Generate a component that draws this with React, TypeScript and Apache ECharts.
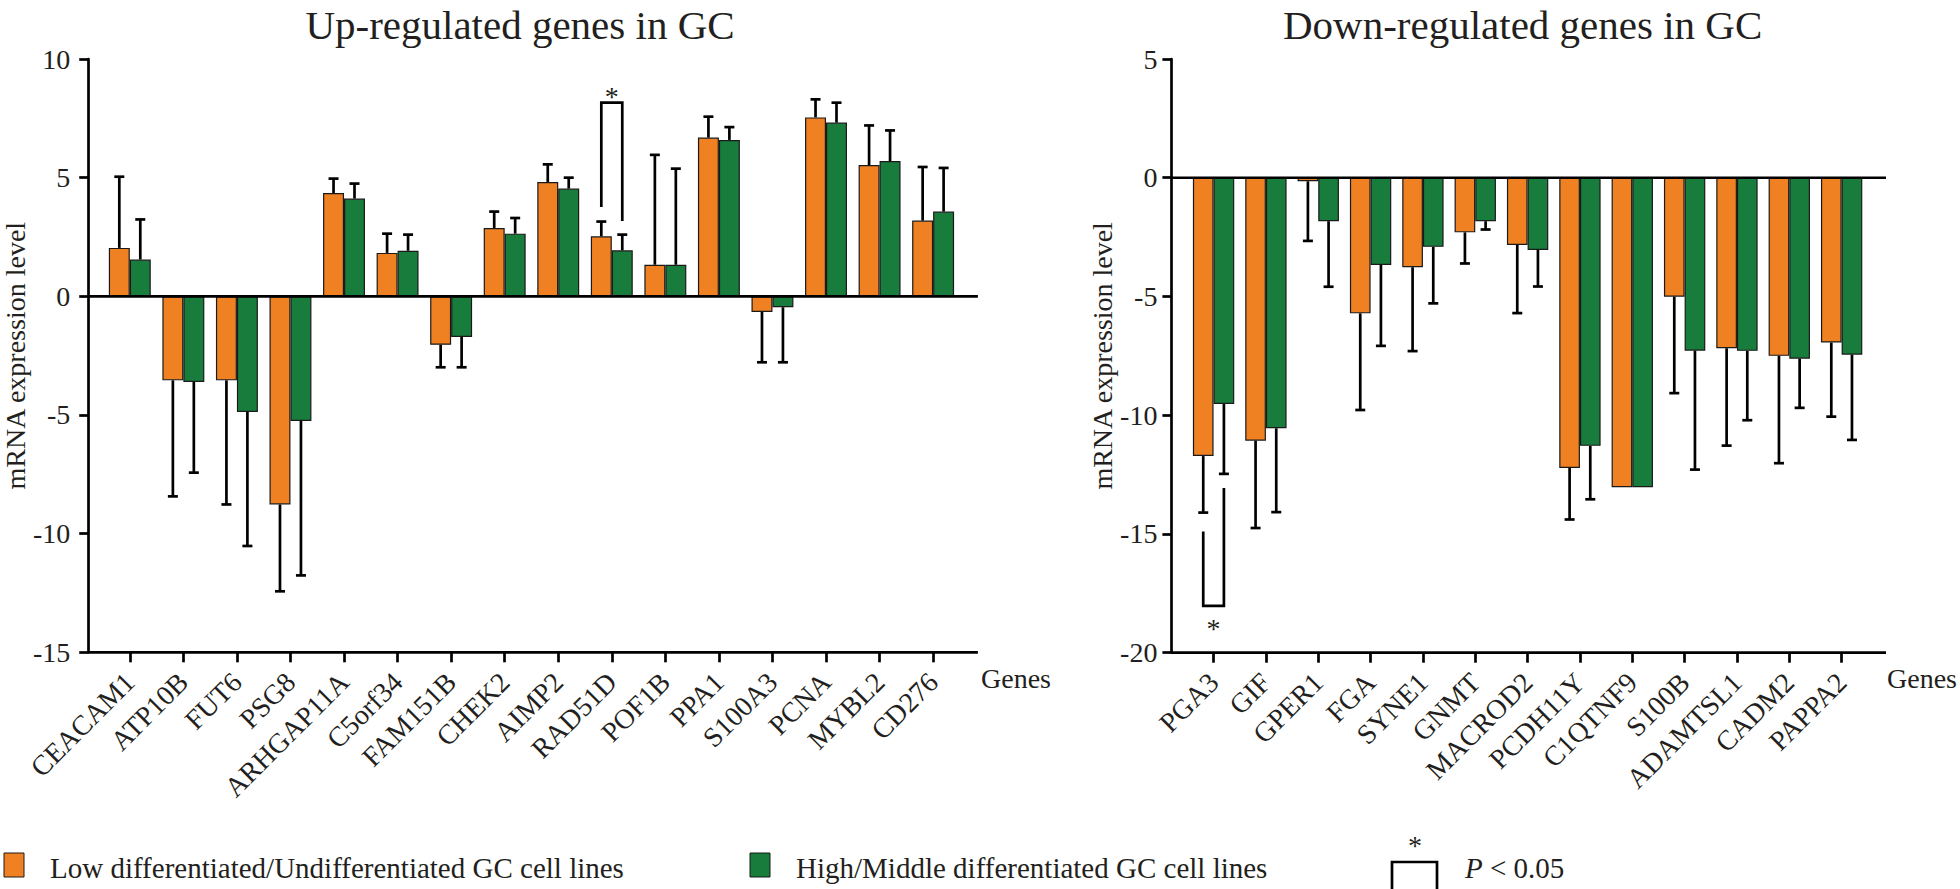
import React, { useEffect, useRef } from 'react';
import * as echarts from 'echarts';

// ---------- data ----------
const upGenes = ['CEACAM1', 'ATP10B', 'FUT6', 'PSG8', 'ARHGAP11A', 'C5orf34', 'FAM151B', 'CHEK2', 'AIMP2', 'RAD51D', 'POF1B', 'PPA1', 'S100A3', 'PCNA', 'MYBL2', 'CD276'];
const upLow = [2.04, -3.54, -3.54, -8.77, 4.35, 1.83, -2.04, 2.88, 4.82, 2.53, 1.33, 6.69, -0.66, 7.54, 5.53, 3.19];
const upLowSD = [3.0, 4.89, 5.23, 3.66, 0.61, 0.81, 0.95, 0.69, 0.74, 0.62, 4.63, 0.88, 2.12, 0.76, 1.67, 2.26];
const upHigh = [1.55, -3.61, -4.87, -5.25, 4.12, 1.92, -1.71, 2.64, 4.54, 1.94, 1.33, 6.59, -0.46, 7.32, 5.7, 3.57];
const upHighSD = [1.69, 3.82, 5.65, 6.51, 0.63, 0.68, 1.28, 0.66, 0.46, 0.66, 4.05, 0.54, 2.32, 0.84, 1.29, 1.84];

const downGenes = ['PGA3', 'GIF', 'GPER1', 'FGA', 'SYNE1', 'GNMT', 'MACROD2', 'PCDH11Y', 'C1QTNF9', 'S100B', 'ADAMTSL1', 'CADM2', 'PAPPA2'];
const downLow = [-11.72, -11.07, -0.15, -5.71, -3.77, -2.3, -2.83, -12.22, -13.03, -5.01, -7.18, -7.5, -6.94];
const downLowSD = [2.38, 3.68, 2.51, 4.07, 3.53, 1.31, 2.87, 2.17, 0, 4.06, 4.1, 4.52, 3.12];
const downHigh = [-9.53, -10.55, -1.83, -3.67, -2.91, -1.83, -3.04, -11.29, -13.03, -7.28, -7.29, -7.62, -7.45];
const downHighSD = [2.94, 3.53, 2.76, 3.41, 2.38, 0.35, 1.54, 2.25, 0, 5.01, 2.92, 2.07, 3.59];

const upAxisRange = [-15, 10];
const downAxisRange = [-20, 5];
const tickStep = 5;

// significance brackets: [category index, low-leg start, high-leg start, bracket level]
const upSig = [[9, 3.76, 3.17, 8.16]];
const downSig = [[0, -14.9, -13.06, -18.03]];

const titles = ['Up-regulated genes in GC', 'Down-regulated genes in GC'];
const lowName = 'Low differentiated/Undifferentiated GC cell lines';
const highName = 'High/Middle differentiated GC cell lines';
const yName = 'mRNA expression level';
const xName = 'Genes';
const sigLabel = 'P';
const sigRest = ' < 0.05';

// ---------- style ----------
const FONT = "'Liberation Serif', 'Times New Roman', serif";
const INK = '#231f20';
const ORANGE = '#F08122';
const GREEN = '#187C3C';
const UP_GAP = 0.217;
const DOWN_GAP = 0.21;
const LW = 2.7;

function errRender(side: number, gap: number) {
  return (params: any, api: any) => {
    const idx = api.value(0);
    const v = api.value(1);
    const sd = api.value(2);
    if (!sd) return null;
    const end = v >= 0 ? v + sd : v - sd;
    const p0 = api.coord([idx, v]);
    const p1 = api.coord([idx, end]);
    const band = api.size([1, 0])[0];
    const bw = (band * (1 - gap)) / 2;
    const x = p0[0] + (side * bw) / 2;
    const st = { stroke: '#000', lineWidth: LW };
    return {
      type: 'group',
      children: [
        { type: 'line', shape: { x1: x, y1: p0[1], x2: x, y2: p1[1] }, style: st },
        { type: 'line', shape: { x1: x - 5, y1: p1[1], x2: x + 5, y2: p1[1] }, style: st },
      ],
    };
  };
}

function sigRender(gap: number, starOffset: number) {
  return (params: any, api: any) => {
    const idx = api.value(0);
    const a = api.coord([idx, api.value(1)]);
    const b = api.coord([idx, api.value(2)]);
    const c = api.coord([idx, api.value(3)]);
    const band = api.size([1, 0])[0];
    const bw = (band * (1 - gap)) / 2;
    const xl = c[0] - bw / 2;
    const xr = c[0] + bw / 2;
    return {
      type: 'group',
      children: [
        {
          type: 'polyline',
          shape: { points: [[xl, a[1]], [xl, c[1]], [xr, c[1]], [xr, b[1]]] },
          style: { stroke: '#000', lineWidth: LW, fill: null },
        },
        {
          type: 'text',
          x: c[0],
          y: c[1] + starOffset,
          style: { text: '*', fill: INK, font: `28px ${FONT}`, align: 'center', verticalAlign: 'middle' },
        },
      ],
    };
  };
}

function axisLinesRender(extL: number, extR: number) {
  return (params: any, api: any) => {
    const cs = params.coordSys;
    const y0 = api.coord([0, 0])[1];
    const yb = cs.y + cs.height;
    const x1 = cs.x - extL;
    const x2 = cs.x + cs.width + extR;
    const st = { stroke: '#000', lineWidth: LW };
    return {
      type: 'group',
      children: [
        { type: 'line', shape: { x1, y1: yb, x2, y2: yb }, style: st },
        { type: 'line', shape: { x1, y1: y0, x2, y2: y0 }, style: st },
      ],
    };
  };
}

function xAxisOpt(gridIndex: number, data: string[]) {
  return {
    gridIndex,
    type: 'category',
    data,
    boundaryGap: true,
    axisLine: { show: false, onZero: false },
    axisTick: { show: true, alignWithLabel: true, length: 10, lineStyle: { color: '#000', width: LW } },
    axisLabel: {
      interval: 0,
      rotate: 45,
      margin: 25,
      padding: [35, 0, 0, 0],
      fontSize: 28,
      fontFamily: FONT,
      color: INK,
    },
    splitLine: { show: false },
  };
}

function yAxisOpt(gridIndex: number, range: number[], offset: number, margin: number, nameGap: number) {
  return {
    gridIndex,
    type: 'value',
    min: range[0],
    max: range[1],
    interval: tickStep,
    offset,
    splitLine: { show: false },
    axisLine: { show: true, lineStyle: { color: '#000', width: LW } },
    axisTick: { show: true, length: 9, lineStyle: { color: '#000', width: LW } },
    axisLabel: { margin, fontSize: 28, fontFamily: FONT, color: INK },
    name: yName,
    nameLocation: 'middle',
    nameRotate: 90,
    nameGap,
    nameTextStyle: { fontSize: 28, fontFamily: FONT, color: INK },
  };
}

const barStyle = (color: string) => ({ color, borderColor: '#1a1a1a', borderWidth: 1.2 });

export default function App() {
  const ref = useRef<HTMLDivElement>(null);
  useEffect(() => {
    document.body.style.margin = '0';
    if (!ref.current) return;
    const chart = echarts.init(ref.current, undefined, { renderer: 'svg' });
    const option: any = {
      animation: false,
      backgroundColor: '#fff',
      grid: [
        { left: 101.8, top: 59, width: 858.1, height: 593.3 },
        { left: 1187.4, top: 59, width: 680.4, height: 593.7 },
      ],
      xAxis: [xAxisOpt(0, upGenes), xAxisOpt(1, downGenes)],
      yAxis: [yAxisOpt(0, upAxisRange, 14.8, 18, 59), yAxisOpt(1, downAxisRange, 16, 14, 55)],
      series: [
        { type: 'bar', name: lowName, xAxisIndex: 0, yAxisIndex: 0, data: upLow, barGap: '0%', barCategoryGap: UP_GAP * 100 + '%', itemStyle: barStyle(ORANGE), z: 2 },
        { type: 'bar', name: highName, xAxisIndex: 0, yAxisIndex: 0, data: upHigh, barGap: '0%', barCategoryGap: UP_GAP * 100 + '%', itemStyle: barStyle(GREEN), z: 2 },
        { type: 'bar', name: lowName, xAxisIndex: 1, yAxisIndex: 1, data: downLow, barGap: '0%', barCategoryGap: DOWN_GAP * 100 + '%', itemStyle: barStyle(ORANGE), z: 2 },
        { type: 'bar', name: highName, xAxisIndex: 1, yAxisIndex: 1, data: downHigh, barGap: '0%', barCategoryGap: DOWN_GAP * 100 + '%', itemStyle: barStyle(GREEN), z: 2 },
        { type: 'custom', xAxisIndex: 0, yAxisIndex: 0, silent: true, z: 3, renderItem: errRender(-1, UP_GAP), data: upLow.map((v, i) => [i, v, upLowSD[i]]) },
        { type: 'custom', xAxisIndex: 0, yAxisIndex: 0, silent: true, z: 3, renderItem: errRender(1, UP_GAP), data: upHigh.map((v, i) => [i, v, upHighSD[i]]) },
        { type: 'custom', xAxisIndex: 1, yAxisIndex: 1, silent: true, z: 3, renderItem: errRender(-1, DOWN_GAP), data: downLow.map((v, i) => [i, v, downLowSD[i]]) },
        { type: 'custom', xAxisIndex: 1, yAxisIndex: 1, silent: true, z: 3, renderItem: errRender(1, DOWN_GAP), data: downHigh.map((v, i) => [i, v, downHighSD[i]]) },
        { type: 'custom', xAxisIndex: 0, yAxisIndex: 0, silent: true, z: 3, renderItem: sigRender(UP_GAP, -6), data: upSig },
        { type: 'custom', xAxisIndex: 1, yAxisIndex: 1, silent: true, z: 3, renderItem: sigRender(DOWN_GAP, 22.5), data: downSig },
        { type: 'custom', xAxisIndex: 0, yAxisIndex: 0, silent: true, z: 4, renderItem: axisLinesRender(14.8, 18), data: [[0, 0]] },
        { type: 'custom', xAxisIndex: 1, yAxisIndex: 1, silent: true, z: 4, renderItem: axisLinesRender(16, 18.2), data: [[0, 0]] },
      ],
      graphic: [
        { type: 'text', x: 520, y: 25, style: { text: titles[0], fill: INK, font: `41px ${FONT}`, align: 'center', verticalAlign: 'middle' } },
        { type: 'text', x: 1522.6, y: 25, style: { text: titles[1], fill: INK, font: `41px ${FONT}`, align: 'center', verticalAlign: 'middle' } },
        { type: 'text', x: 981, y: 678.5, style: { text: xName, fill: INK, font: `28px ${FONT}`, align: 'left', verticalAlign: 'middle' } },
        { type: 'text', x: 1887, y: 678.5, style: { text: xName, fill: INK, font: `28px ${FONT}`, align: 'left', verticalAlign: 'middle' } },
        { type: 'rect', shape: { x: 4, y: 853, width: 20, height: 24 }, style: { fill: ORANGE, stroke: '#1a1a1a', lineWidth: 1 } },
        { type: 'text', x: 50, y: 868, style: { text: lowName, fill: INK, font: `29px ${FONT}`, align: 'left', verticalAlign: 'middle' } },
        { type: 'rect', shape: { x: 750, y: 853, width: 20, height: 24 }, style: { fill: GREEN, stroke: '#1a1a1a', lineWidth: 1 } },
        { type: 'text', x: 796, y: 868, style: { text: highName, fill: INK, font: `29px ${FONT}`, align: 'left', verticalAlign: 'middle' } },
        { type: 'polyline', shape: { points: [[1392, 889], [1392, 862], [1437, 862], [1437, 889]] }, style: { stroke: '#000', lineWidth: LW, fill: null } },
        { type: 'text', x: 1415, y: 845, style: { text: '*', fill: INK, font: `28px ${FONT}`, align: 'center', verticalAlign: 'middle' } },
        {
          type: 'text',
          x: 1465,
          y: 868,
          style: {
            text: `{i|${sigLabel}}${sigRest}`,
            fill: INK,
            font: `29px ${FONT}`,
            align: 'left',
            verticalAlign: 'middle',
            rich: { i: { fontStyle: 'italic', fontSize: 29, fontFamily: FONT, fill: INK } },
          },
        },
      ],
    };
    chart.setOption(option);
    return () => chart.dispose();
  }, []);
  return <div ref={ref} style={{ width: 1960, height: 889 }} />;
}
